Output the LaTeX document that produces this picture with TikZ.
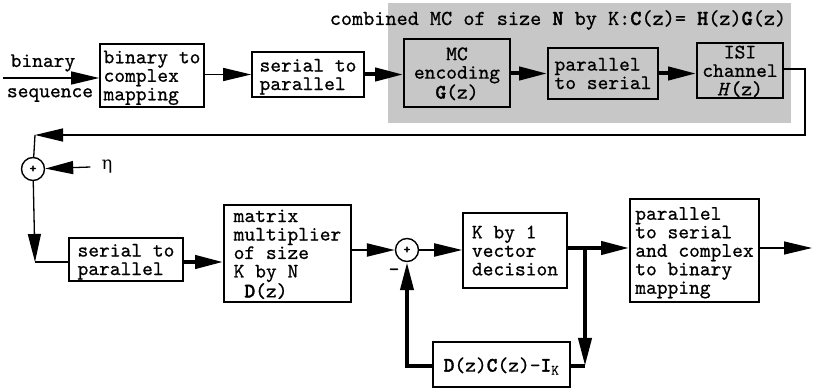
\documentclass[tikz,border=0pt]{standalone}
\usepackage{fontspec}
\setmonofont{lmmono10-regular.otf}[FakeBold=0.7, BoldFont=lmmonolt10-bold.otf, BoldFeatures={FakeBold=1.5}, ItalicFont=lmmono10-italic.otf, ItalicFeatures={FakeBold=0.7}]
\newfontfamily\grk{DejaVu Serif}
\usetikzlibrary{arrows.meta}

\begin{document}
\begin{tikzpicture}[x=1pt, y=-1pt,
		every node/.style={font=\ttfamily\fontsize{20.5}{18.5}\selectfont, inner sep=1pt},
		blk/.style={draw, line width=1.6pt, align=left, text depth=0pt},
		sum/.style={draw, circle, line width=1.4pt, minimum size=23pt, inner sep=0pt, font=\bfseries\ttfamily\fontsize{13}{13}\selectfont},
		arr/.style={-{Triangle[length=28pt, width=13pt]}},
		thn/.style={line width=1.3pt},
		thk/.style={line width=4pt}]
		\useasboundingbox (0,0) rectangle (820,390);
		% combined MC
		\fill [black!22] (388,3) rectangle (791,123);
		\node at (558,20) [font=\ttfamily\fontsize{21.2}{21}\selectfont] (title) {combined MC of size \textbf{N} by K:\textbf{C}(z)= \textbf{H}(z)\textbf{G}(z)};
	
		\node at (152,75.5) [blk, minimum width=104pt, minimum height=63pt] (b2c) {binary to\\complex\\mapping};
		\node at (308,74.5) [blk, minimum width=112pt, minimum height=45pt] (sp1) {serial to\\parallel};
		\node at (457,73) [blk, align=center, minimum width=106pt, minimum height=68pt] (mcenc) {MC\\encoding\\\textbf{G}(z)};
		\node at (603,73.5) [blk, minimum width=110pt, minimum height=51pt] (p2s) {parallel\\to serial};
		\node at (740,70.5) [blk, align=center, minimum width=86pt, minimum height=55pt] (isi) {ISI\\channel\\\textit{H}(z)};
		
		\node at (43,63) (bin) {binary};
		\node at (50,95) (seq) {sequence};
		\coordinate (in) at (3,78);
		\draw [thn, arr] (in) -- (b2c.west |- in);
		\draw [thn, arr] (b2c.east |- sp1) -- (sp1);
		\draw [thk, arr] (sp1) -- (mcenc.west |- sp1);
		\draw [thk, arr] (mcenc.east |- p2s) -- (p2s);
		\draw [thk, arr] (p2s.east) -- (isi.west |- p2s);
		
		% back to the receiver
		\coordinate (fb) at (35,135);
		\draw [thn, arr] (isi.east |- 0,69) -- (805,69) |- (fb);
		\node at (33,169) [sum] (sum1) {+};
		\node at (107,167) [font=\grk\fontsize{18}{18}\selectfont] (eta) {η};
		\draw [thn] (fb) -- (sum1);
		\draw [thn, arr] ([xshift=-10pt]eta.west) -- (sum1);
		
		\node at (126,259.5) [blk, minimum width=114pt, minimum height=43pt] (sp2) {serial to\\parallel};
		\coordinate (c1) at (35,262);
		\draw [thn, arr] (sum1) -- (c1);
		\draw [thn] (c1) -- (sp2.west |- c1);
		
		\node at (287.5,253.5) [blk, minimum width=127pt, minimum height=97pt] (mat) {matrix\\multiplier\\of size\\K by N\\\ \textbf{D}(z)};
		\draw [thk, arr] (sp2.east |- c1) -- (mat.west |- c1);
		
		\node at (407,250) [sum] (sum2) {+};
		\node at (394,272) (minus) {-};
		\draw [line width=2.2pt, arr] (mat.east |- sum2) -- (sum2);
		
		\node at (515,250.5) [blk, minimum width=104pt, minimum height=75pt] (kby1) {K by 1\\vector\\decision};
		\draw [line width=2pt, arr] (sum2) -- (kby1.west |- sum2);
		
		\node at (694.5,250.5) [blk, minimum width=129pt, minimum height=103pt] (p2sc) {parallel\\to serial\\and complex\\to binary\\mapping};
		\coordinate (br) at (585,248);
		\draw [thk, arr] (kby1.east |- br) -- (p2sc.west |- br);
		\coordinate (out) at (812,248);
		\draw [thn, arr] (p2sc.east |- out) -- (out);
		
		% feedback
		\node at (501.5,364.5) [blk, minimum width=137pt, minimum height=45pt] (dc) {\textbf{D}(z)\textbf{C}(z)-\textbf{I}\textsubscript{K}};
		\coordinate (c2) at (585,366);
		\draw [thk, arr] (br) -- (c2);
		\draw [thk] (c2) -- (dc.east |- c2);
		\draw [thk, arr] (dc.west |- c2) -| (sum2);
	\end{tikzpicture}
\end{document}
